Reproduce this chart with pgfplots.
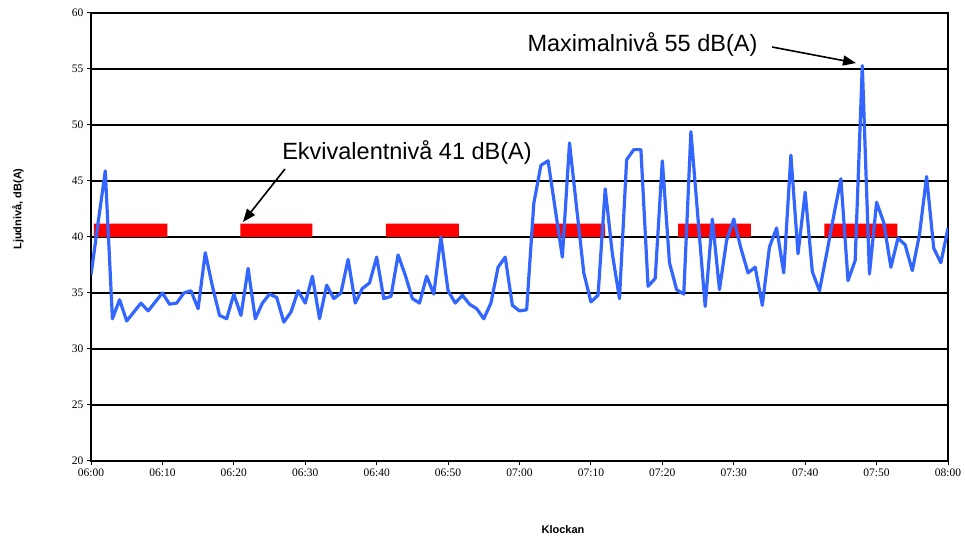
\documentclass[border=0pt]{standalone}
\usepackage{fontspec}
\setmainfont{Liberation Serif}
\newfontfamily\arial{Liberation Sans}
\usepackage{pgfplots}
\pgfplotsset{compat=1.18}
\usetikzlibrary{arrows.meta}
\definecolor{lineblue}{HTML}{3366FF}
\begin{document}
\begin{tikzpicture}
\begin{axis}[
  at={(0,0)}, anchor=south west,
  scale only axis, width=857pt, height=448pt,
  xmin=0, xmax=120, ymin=20, ymax=60,
  xtick={0,10,...,120},
  xticklabels={06:00,06:10,06:20,06:30,06:40,06:50,07:00,07:10,07:20,07:30,07:40,07:50,08:00},
  ytick={20,25,...,60},
  ymajorgrids, grid style={black, line width=1.3pt},
  axis line style={black, line width=1.4pt},
  tick style={black, line width=1pt}, tick align=outside, major tick length=4pt,
  xtick pos=bottom, ytick pos=left,
  tick label style={font=\fontsize{11.5}{13}\selectfont},
  /pgf/number format/assume math mode=true,
]
% Ekvivalentnivå bars
\addplot[fill=red, draw=none] coordinates {(0.4,40) (10.7,40) (10.7,41.2) (0.4,41.2) (0.4,40)};
\addplot[fill=red, draw=none] coordinates {(20.9,40) (31.0,40) (31.0,41.2) (20.9,41.2) (20.9,40)};
\addplot[fill=red, draw=none] coordinates {(41.3,40) (51.5,40) (51.5,41.2) (41.3,41.2) (41.3,40)};
\addplot[fill=red, draw=none] coordinates {(61.8,40) (72.0,40) (72.0,41.2) (61.8,41.2) (61.8,40)};
\addplot[fill=red, draw=none] coordinates {(82.2,40) (92.4,40) (92.4,41.2) (82.2,41.2) (82.2,40)};
\addplot[fill=red, draw=none] coordinates {(102.7,40) (112.9,40) (112.9,41.2) (102.7,41.2) (102.7,40)};
% sound level
\addplot[lineblue, line width=3.2pt, line join=round, mark=none] table {
x y
0 36.6
1 41.3
2 45.9
3 32.7
4 34.4
5 32.5
6 33.3
7 34.1
8 33.4
9 34.2
10 35.0
11 34.0
12 34.1
13 35.0
14 35.2
15 33.6
16 38.6
17 35.6
18 33.0
19 32.7
20 34.9
21 33.0
22 37.2
23 32.7
24 34.1
25 34.9
26 34.6
27 32.4
28 33.3
29 35.2
30 34.1
31 36.5
32 32.7
33 35.7
34 34.5
35 35.0
36 38.0
37 34.1
38 35.4
39 35.9
40 38.2
41 34.5
42 34.7
43 38.4
44 36.6
45 34.5
46 34.1
47 36.5
48 34.9
49 40.0
50 35.2
51 34.1
52 34.8
53 34.0
54 33.6
55 32.7
56 34.1
57 37.3
58 38.2
59 33.9
60 33.4
61 33.5
62 43.0
63 46.4
64 46.8
65 42.5
66 38.2
67 48.4
68 42.6
69 36.8
70 34.2
71 34.8
72 44.3
73 38.5
74 34.5
75 46.9
76 47.8
77 47.8
78 35.6
79 36.3
80 46.8
81 37.7
82 35.3
83 34.9
84 49.4
85 41.6
86 33.8
87 41.6
88 35.3
89 39.7
90 41.6
91 39.0
92 36.8
93 37.3
94 33.9
95 39.1
96 40.8
97 36.8
98 47.3
99 38.5
100 44.0
101 36.9
102 35.2
103 38.5
104 41.9
105 45.2
106 36.1
107 37.9
108 55.3
109 36.7
110 43.1
111 41.3
112 37.3
113 39.9
114 39.3
115 37.0
116 40.2
117 45.4
118 39.0
119 37.7
120 40.8
};
\end{axis}
% annotations
\node[font=\arial\fontsize{23.5}{28}\selectfont] at (551.5pt,417pt) {Maximalnivå 55 dB(A)};
\draw[line width=1.6pt, -{Triangle[length=13pt,width=10pt]}] (681pt,414pt) -- (765pt,398pt);
\node[font=\arial\fontsize{23.5}{28}\selectfont] at (316pt,309pt) {Ekvivalentnivå 41 dB(A)};
\draw[line width=1.6pt, -{Triangle[length=13pt,width=10pt]}] (194pt,292pt) -- (152pt,239pt);
% axis titles
\node[font=\arial\bfseries\fontsize{11}{13}\selectfont, rotate=90] at (-73pt,252pt) {Ljudnivå, dB(A)};
\node[font=\arial\bfseries\fontsize{11}{13}\selectfont] at (472pt,-69pt) {Klockan};
\pgfresetboundingbox
\path[use as bounding box] (-91pt,-76pt) rectangle (874pt,461pt);
\end{tikzpicture}
\end{document}
